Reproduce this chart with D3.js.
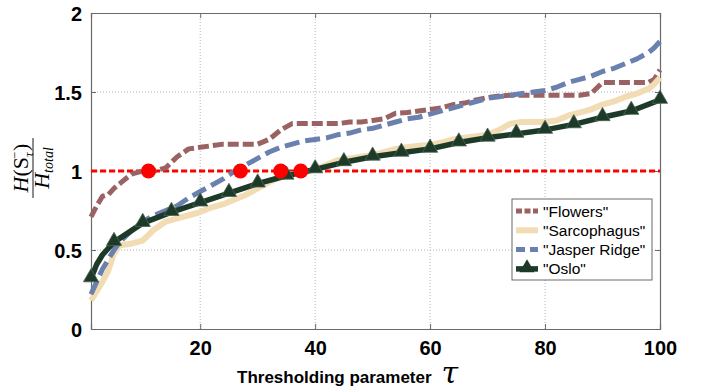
<!DOCTYPE html>
<html>
<head>
<meta charset="utf-8">
<script src="https://cdn.jsdelivr.net/npm/d3@7"></script>
<style>
  body { margin: 0; background: #fff; }
  svg { display: block; }
</style>
</head>
<body>
<div id="chart"></div>
<script>
// threshold grid shared by Flowers / Sarcophagus / Jasper Ridge
const tau = [1, 2, 3, 4, 5, 6, 8, 10, 12, 14, 16, 18, 20, 22, 24, 26, 28, 30, 32, 34, 36, 38, 40,
  42, 44, 46, 48, 50, 52, 54, 56, 58, 60, 62, 64, 66, 68, 70, 72, 74, 76, 78, 80, 82, 84, 86, 88,
  90, 92, 94, 96, 98, 99, 100];

const flowers = [0.71, 0.78, 0.84, 0.85, 0.89, 0.92, 0.98, 1.0, 1.0, 1.02, 1.09, 1.14, 1.15, 1.16,
  1.17, 1.17, 1.17, 1.17, 1.2, 1.26, 1.3, 1.3, 1.3, 1.3, 1.3, 1.31, 1.31, 1.32, 1.33, 1.365, 1.37,
  1.38, 1.39, 1.4, 1.42, 1.43, 1.45, 1.465, 1.475, 1.48, 1.48, 1.48, 1.48, 1.48, 1.48, 1.48, 1.49,
  1.56, 1.56, 1.56, 1.56, 1.56, 1.58, 1.64];

const sarcophagus = [0.18, 0.24, 0.30, 0.37, 0.48, 0.53, 0.54, 0.56, 0.63, 0.68, 0.70, 0.72, 0.74,
  0.77, 0.79, 0.82, 0.85, 0.89, 0.93, 0.96, 0.98, 0.99, 1.01, 1.04, 1.07, 1.08, 1.09, 1.10, 1.12,
  1.14, 1.15, 1.16, 1.165, 1.18, 1.2, 1.21, 1.22, 1.23, 1.26, 1.30, 1.31, 1.31, 1.31, 1.32, 1.35,
  1.37, 1.39, 1.42, 1.44, 1.47, 1.49, 1.52, 1.55, 1.59];

const jasper = [0.22, 0.30, 0.38, 0.44, 0.50, 0.55, 0.62, 0.68, 0.72, 0.75, 0.78, 0.83, 0.87, 0.91,
  0.95, 1.0, 1.04, 1.08, 1.12, 1.15, 1.17, 1.19, 1.2, 1.21, 1.23, 1.24, 1.26, 1.27, 1.29, 1.31,
  1.33, 1.34, 1.36, 1.38, 1.4, 1.42, 1.44, 1.46, 1.47, 1.48, 1.49, 1.5, 1.51, 1.53, 1.56, 1.58,
  1.6, 1.63, 1.65, 1.68, 1.71, 1.75, 1.78, 1.82];

// Oslo has its own sampling (markers every 5)
const osloTau = [1, 2, 3, 5, 10, 15, 20, 25, 30, 35, 40, 45, 50, 55, 60, 65, 70, 75, 80, 85, 90, 95, 100];
const oslo = [0.32, 0.41, 0.47, 0.55, 0.67, 0.74, 0.80, 0.86, 0.92, 0.97, 1.01, 1.055, 1.09, 1.115,
  1.14, 1.18, 1.21, 1.235, 1.26, 1.295, 1.34, 1.38, 1.45];

// where each curve crosses the ratio 1
const crossings = [11, 27, 34, 37.5];
const refLevel = 1;

const xTicks = [20, 40, 60, 80, 100];
const yTicks = [0, 0.5, 1, 1.5, 2];

const W = 702, H = 390;
const plot = { left: 91, right: 660, top: 13, bottom: 329 };

const svg = d3.select('#chart').append('svg')
  .attr('width', W)
  .attr('height', H);

const x = d3.scaleLinear().domain([1, 100]).range([plot.left, plot.right]);
const y = d3.scaleLinear().domain([0, 2]).range([plot.bottom, plot.top]);

// Grid (dotted)
svg.append('g')
  .selectAll('line')
  .data(xTicks.filter(d => d < 100))
  .enter().append('line')
  .attr('x1', d => x(d)).attr('x2', d => x(d))
  .attr('y1', plot.top).attr('y2', plot.bottom)
  .attr('stroke', '#b5b5b5')
  .attr('stroke-width', 1)
  .attr('stroke-dasharray', '1,2');

svg.append('g')
  .selectAll('line')
  .data(yTicks.filter(d => d > 0 && d < 2))
  .enter().append('line')
  .attr('x1', plot.left).attr('x2', plot.right)
  .attr('y1', d => y(d)).attr('y2', d => y(d))
  .attr('stroke', '#b5b5b5')
  .attr('stroke-width', 1)
  .attr('stroke-dasharray', '1,2');

// Axes (ticks inward, box)
const axisColor = '#6a6a6a';
const xAxis = svg.append('g')
  .attr('transform', `translate(0,${plot.bottom})`)
  .call(d3.axisBottom(x).tickValues(xTicks).tickSize(-5).tickPadding(12).tickFormat(d3.format('d')));
const xAxisTop = svg.append('g')
  .attr('transform', `translate(0,${plot.top})`)
  .call(d3.axisTop(x).tickValues(xTicks).tickSize(-5).tickFormat(''));
const yAxis = svg.append('g')
  .attr('transform', `translate(${plot.left},0)`)
  .call(d3.axisLeft(y).tickValues(yTicks).tickSize(-5).tickPadding(9).tickFormat(d => d));
const yAxisRight = svg.append('g')
  .attr('transform', `translate(${plot.right},0)`)
  .call(d3.axisRight(y).tickValues(yTicks).tickSize(-5).tickFormat(''));

[xAxis, xAxisTop, yAxis, yAxisRight].forEach(g => {
  g.select('.domain').attr('stroke', axisColor).attr('stroke-width', 1.2);
  g.selectAll('.tick line').attr('stroke', axisColor);
  g.selectAll('text')
    .attr('fill', '#000')
    .style('font-family', 'Liberation Sans, Arial, sans-serif')
    .style('font-weight', 'bold')
    .style('font-size', '20px');
});
yAxis.selectAll('text').attr('dy', '0.36em');

// Series
const line = d3.line().x(d => x(d[0])).y(d => y(d[1]));
const series = [
  { name: '"Flowers"', xs: tau, ys: flowers, color: '#9a6262', width: 5, dash: '11,4' },
  { name: '"Sarcophagus"', xs: tau, ys: sarcophagus, color: '#f1dcb4', width: 6, dash: null },
  { name: '"Jasper Ridge"', xs: tau, ys: jasper, color: '#6a80ae', width: 5, dash: '15,6' },
  { name: '"Oslo"', xs: osloTau, ys: oslo, color: '#1d3a28', width: 5.5, dash: null }
];

// red reference line at ratio 1
svg.append('line')
  .attr('x1', x(1)).attr('x2', x(100))
  .attr('y1', y(refLevel)).attr('y2', y(refLevel))
  .attr('stroke', '#ff0000')
  .attr('stroke-width', 3.2)
  .attr('stroke-dasharray', '6,3');

series.forEach(s => {
  svg.append('path')
    .datum(s.xs.map((t, i) => [t, s.ys[i]]))
    .attr('fill', 'none')
    .attr('stroke', s.color)
    .attr('stroke-width', s.width)
    .attr('stroke-dasharray', s.dash)
    .attr('stroke-linejoin', 'round')
    .attr('d', line);
});

// Oslo triangle markers
const tri = d3.symbol().type(d3.symbolTriangle).size(100);
svg.append('g')
  .selectAll('path')
  .data(osloTau.map((t, i) => [t, oslo[i]]).filter(d => d[0] === 1 || d[0] % 5 === 0))
  .enter().append('path')
  .attr('transform', d => `translate(${x(d[0])},${y(d[1]) - 1})`)
  .attr('d', tri)
  .attr('fill', '#1d3a28')
  .attr('stroke', '#4a6655')
  .attr('stroke-width', 0.8);

// red crossing dots
svg.append('g')
  .selectAll('circle')
  .data(crossings)
  .enter().append('circle')
  .attr('cx', d => x(d))
  .attr('cy', y(refLevel))
  .attr('r', 7.5)
  .attr('fill', '#ff0000');

// Legend
const lg = svg.append('g').attr('transform', 'translate(512,199)');
lg.append('rect')
  .attr('width', 140).attr('height', 81)
  .attr('fill', '#fff')
  .attr('stroke', '#6a6a6a')
  .attr('stroke-width', 1);
series.forEach((s, i) => {
  const cy = 12 + i * 19.3;
  lg.append('line')
    .attr('x1', 4).attr('x2', 26)
    .attr('y1', cy).attr('y2', cy)
    .attr('stroke', s.color)
    .attr('stroke-width', s.width)
    .attr('stroke-dasharray', s.name === '"Flowers"' ? '6,2.5' : (s.dash ? '9,5' : null));
  if (s.name === '"Oslo"') {
    lg.append('path')
      .attr('transform', `translate(15,${cy - 1})`)
      .attr('d', tri)
      .attr('fill', s.color);
  }
  lg.append('text')
    .attr('x', 31).attr('y', cy)
    .attr('dy', '0.36em')
    .style('font-family', 'Liberation Sans, Arial, sans-serif')
    .style('font-size', '15.5px')
    .text(s.name);
});

// X label
const xl = svg.append('text')
  .attr('x', 237).attr('y', 383)
  .style('font-family', 'Liberation Sans, Arial, sans-serif')
  .style('font-weight', 'bold')
  .style('font-size', '17px')
  .text('Thresholding parameter');
xl.append('tspan')
  .attr('dx', 10)
  .style('font-family', 'DejaVu Serif, serif')
  .style('font-style', 'italic')
  .style('font-weight', 'normal')
  .style('font-size', '30px')
  .text('τ');

// Y label: H(S_τ^-) / H_total
const yl = svg.append('g').attr('transform', 'translate(33,168) rotate(-90)');
const serif = 'Liberation Serif, Times New Roman, serif';
const num = yl.append('text')
  .attr('x', 0).attr('y', -5)
  .attr('text-anchor', 'middle')
  .style('font-family', serif)
  .style('font-size', '22px');
num.append('tspan').style('font-style', 'italic').text('H');
num.append('tspan').text('(S');
num.append('tspan').attr('dy', 5).style('font-size', '13px').style('font-style', 'italic').text('τ');
num.append('tspan').attr('dx', -7).attr('dy', -14).style('font-size', '13px').text('−');
num.append('tspan').attr('dx', 1).attr('dy', 9).text(')');
yl.append('line')
  .attr('x1', -30).attr('x2', 30)
  .attr('y1', 0).attr('y2', 0)
  .attr('stroke', '#000').attr('stroke-width', 0.9);
const den = yl.append('text')
  .attr('x', 0).attr('y', 16)
  .attr('text-anchor', 'middle')
  .style('font-family', serif)
  .style('font-style', 'italic')
  .style('font-size', '22px');
den.append('tspan').text('H');
den.append('tspan').attr('dy', 4).style('font-size', '14px').text('total');
</script>
</body>
</html>
